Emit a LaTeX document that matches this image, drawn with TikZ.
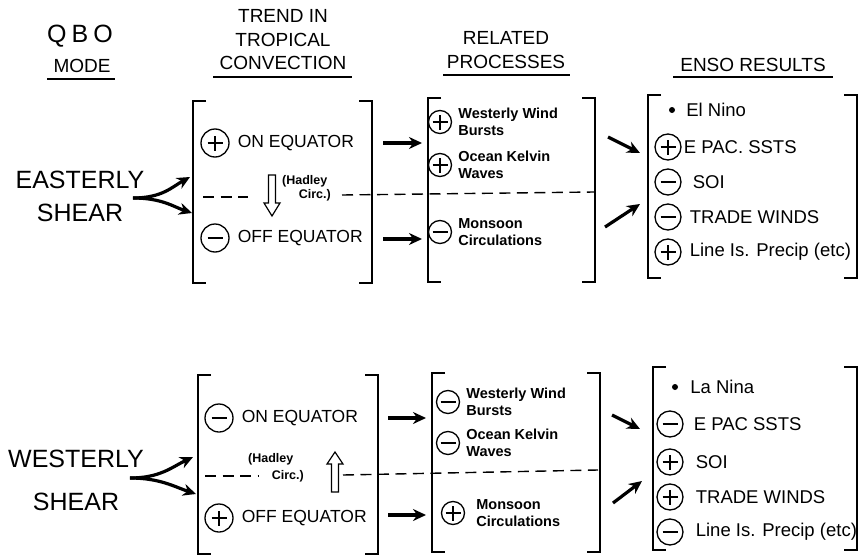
\documentclass[tikz,border=0pt]{standalone}
\usepackage{fontspec}
\setmainfont{Liberation Sans}
\usetikzlibrary{positioning,arrows.meta}

\tikzset{
  sgn/.style={circle,draw,line width=1.3pt,minimum size=26pt,inner sep=0pt},
  pl/.style={sgn,path picture={\draw[line width=1.4pt]
      (path picture bounding box.center) +(-7.5pt,0) -- +(7.5pt,0)
      (path picture bounding box.center) +(0,-7.5pt) -- +(0,7.5pt);}},
  mn/.style={sgn,path picture={\draw[line width=1.4pt]
      (path picture bounding box.center) +(-7.5pt,0) -- +(7.5pt,0);}},
  plbig/.style={pl,minimum size=28pt},
  mnbig/.style={mn,minimum size=28pt},
  plsm/.style={pl,minimum size=23pt},
  mnsm/.style={mn,minimum size=23pt},
  dotb/.style={circle,fill,inner sep=0pt,minimum size=6pt},
  lbl/.style={inner sep=1pt,font=\fontsize{17.5}{18}\selectfont},
  res/.style={inner sep=1pt,font=\fontsize{18.5}{19}\selectfont},
  proc/.style={inner sep=1pt,align=left,font=\bfseries\fontsize{14.5}{16.5}\selectfont},
  hadl/.style={inner sep=0pt,font=\bfseries\fontsize{12.5}{13}\selectfont},
  head/.style={align=center,inner sep=0pt,font=\fontsize{19}{23.5}\selectfont},
  shear/.style={align=center,inner sep=0pt,font=\fontsize{25}{33}\selectfont},
  arr/.style={line width=3.2pt,-{Stealth[length=13pt,width=12pt]}},
  brk/.style={line width=1.7pt},
  uline/.style={line width=1.6pt},
  dsh/.style={line width=1.4pt,dash pattern=on 11pt off 6.5pt},
  hol/.style={line width=1.2pt,fill=white,line join=miter},
}

\begin{document}
\begin{tikzpicture}[x=1pt,y=-1pt]
    \useasboundingbox (0,0) rectangle (860,557);

    % Column headings
    \node[inner sep=0pt,font=\fontsize{25}{25}\selectfont] (qbo) at (80,36) {Q\hspace{5pt}B\hspace{5pt}O};
    \node[head] (mode) at (82,66) {MODE};
    \draw[uline] (47,79) -- (115,79);
    \node[head] (trend) at (283,40) {TREND IN\\TROPICAL\\CONVECTION};
    \draw[uline] (213,77) -- (352,77);
    \node[head] (rel) at (506,50) {RELATED\\PROCESSES};
    \draw[uline] (443,75) -- (570,75);
    \node[head] (enso) at (753,65) {ENSO RESULTS};
    \draw[uline] (673,77) -- (833,77);

    % Brackets
    \foreach \l/\r/\t/\b in {193/372/101/283, 428/595/98/282, 648/857/95/278,
                             198/378/375/554, 432/600/373/552, 653/857/367/550} {
        \draw[brk] (\l+13,\t) -- (\l,\t) -- (\l,\b) -- (\l+13,\b);
        \draw[brk] (\r-13,\t) -- (\r,\t) -- (\r,\b) -- (\r-13,\b);
    }

    % Dashed divisions
    \draw[dsh] (203,197) -- (248,197);
    \draw[dsh] (342,195) -- (594,192);
    \draw[dsh] (205,476) -- (258,476);
    \draw[dsh] (343,475) -- (598,470);

    % Easterly shear
    \node[shear] (east) at (80,196) {EASTERLY\\SHEAR};
    \coordinate (eT) at (133,198);
    \coordinate (eU) at (190,177);
    \coordinate (eD) at (192,213);
    \draw[arr] (eT) .. controls (162,198) and (172,187) .. (eU);
    \draw[arr] (eT) .. controls (162,198) and (174,207) .. (eD);

    \node[plbig] (onA) at (215,143) {};
    \node[lbl,right=7pt of onA] (onAt) {ON EQUATOR};
    \node[mnbig] (offA) at (215,238) {};
    \node[lbl,right=7pt of offA] (offAt) {OFF EQUATOR};
    \node[hadl,anchor=west] (hadA) at (282,181) {(Hadley};
    \node[hadl,anchor=east] (circA) at (331,195) {Circ.)};
    \draw[hol] (268.5,175) -- (275.5,175) -- (275.5,203) -- (280,203) -- (272,216)
        -- (264,203) -- (268.5,203) -- cycle;

    \node[plsm] (wwA) at (440,122) {};
    \node[proc,right=5pt of wwA] (wwAt) {Westerly Wind\\Bursts};
    \node[plsm] (okA) at (440,165) {};
    \node[proc,right=5pt of okA] (okAt) {Ocean Kelvin\\Waves};
    \node[mnsm] (moA) at (440,232) {};
    \node[proc,right=5pt of moA] (moAt) {Monsoon\\Circulations};

    \node[dotb] (dA) at (672,110) {};
    \node[res,right=10pt of dA] (ninoA) {El Nino};
    \foreach \s/\txt/\y/\g [count=\i] in {pl/{E PAC. SSTS}/147/1pt, mn/SOI/182/10pt,
                                          mn/{TRADE WINDS}/217/7pt, pl/{Line Is. Precip (etc)}/252/7pt} {
        \node[\s] (eA\i) at (668,\y) {};
        \node[res,right=\g of eA\i] (tA\i) {\txt};
    }

    % Westerly shear
    \node[shear,font=\fontsize{25}{43}\selectfont] (west) at (76,480) {WESTERLY\\SHEAR};
    \coordinate (wT) at (130,478);
    \coordinate (wU) at (193,457);
    \coordinate (wD) at (196,494);
    \draw[arr] (wT) .. controls (160,478) and (172,467) .. (wU);
    \draw[arr] (wT) .. controls (160,478) and (175,487) .. (wD);

    \node[mnbig] (onB) at (219,418) {};
    \node[lbl,right=7pt of onB] (onBt) {ON EQUATOR};
    \node[plbig] (offB) at (219,518) {};
    \node[lbl,right=7pt of offB] (offBt) {OFF EQUATOR};
    \node[hadl,anchor=west] (hadB) at (248,459) {(Hadley};
    \node[hadl,anchor=east] (circB) at (304,476) {Circ.)};
    \draw[hol] (331.5,492) -- (338.5,492) -- (338.5,464) -- (343,464) -- (335,452)
        -- (327,464) -- (331.5,464) -- cycle;

    \node[mnsm] (wwB) at (448,402) {};
    \node[proc,right=5pt of wwB] (wwBt) {Westerly Wind\\Bursts};
    \node[mnsm] (okB) at (448,443) {};
    \node[proc,right=5pt of okB] (okBt) {Ocean Kelvin\\Waves};
    \node[plsm] (moB) at (453,513) {};
    \node[proc,right=10pt of moB] (moBt) {Monsoon\\Circulations};

    \node[dotb] (dB) at (675,387) {};
    \node[res,right=11pt of dB] (ninoB) {La Nina};
    \foreach \s/\txt/\y/\g [count=\i] in {mn/{E PAC SSTS}/424/9pt, pl/SOI/462/11pt,
                                          pl/{TRADE WINDS}/497/11pt, mn/{Line Is. Precip (etc)}/532/11pt} {
        \node[\s] (eB\i) at (670,\y) {};
        \node[res,right=\g of eB\i] (tB\i) {\txt};
    }

    % Links between columns
    \foreach \n/\xa/\ya/\xb/\yb in {p1/383/143/422/143, p2/383/239/422/239,
                                    p3/608/137/640/153, p4/605/227/640/204,
                                    p5/388/418/426/418, p6/388/515/426/515,
                                    p7/612/415/640/429, p8/613/503/642/481} {
        \coordinate (\n s) at (\xa,\ya);
        \coordinate (\n e) at (\xb,\yb);
        \draw[arr] (\n s) -- (\n e);
    }
\end{tikzpicture}
\end{document}
